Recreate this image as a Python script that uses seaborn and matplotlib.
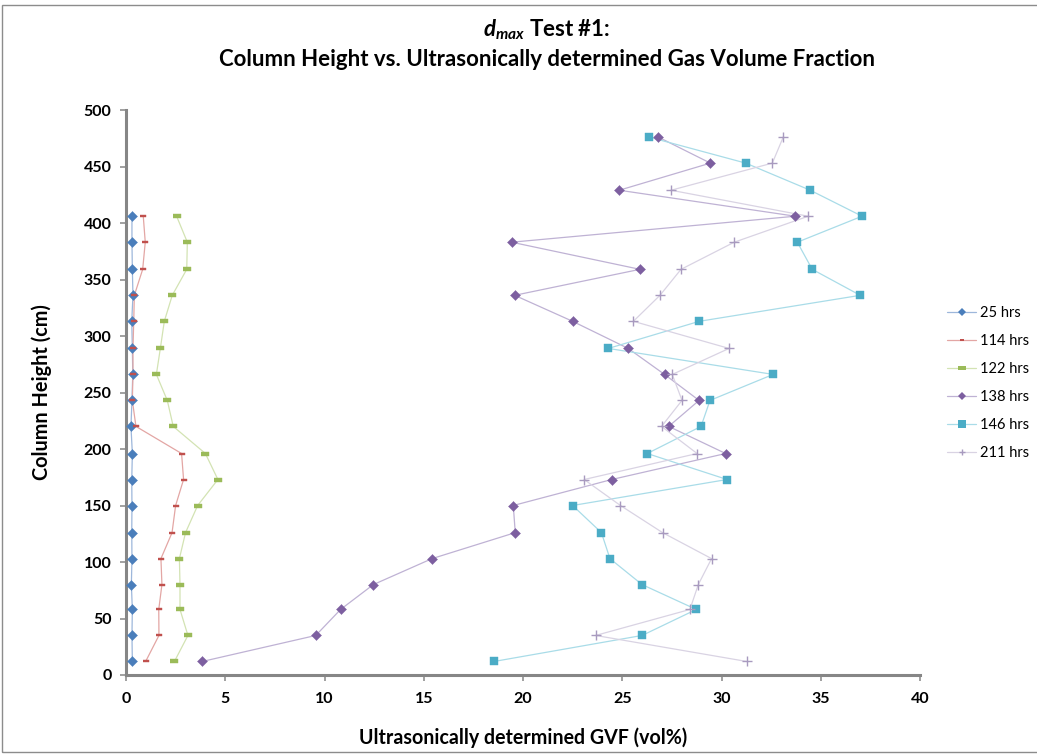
import matplotlib
matplotlib.use("Agg")
import matplotlib.pyplot as plt
import seaborn as sns
import pandas as pd
from matplotlib.lines import Line2D
from matplotlib.patches import Rectangle

# ---------------- data ----------------
heights = [12, 35, 58, 80, 103, 126, 150, 173, 196, 220, 243, 266, 289,
           313, 336, 359, 383, 406, 429, 453, 476]

gvf_25 = [0.32, 0.30, 0.32, 0.27, 0.30, 0.29, 0.30, 0.29, 0.32, 0.25, 0.30,
          0.34, 0.32, 0.29, 0.35, 0.32, 0.30, 0.30]
gvf_114 = [0.99, 1.66, 1.65, 1.81, 1.76, 2.32, 2.50, 2.90, 2.80, 0.50, 0.32,
           0.35, 0.35, 0.39, 0.42, 0.84, 0.97, 0.87]
gvf_122 = [2.44, 3.12, 2.72, 2.72, 2.69, 3.00, 3.61, 4.63, 4.00, 2.38, 2.08,
           1.53, 1.73, 1.93, 2.33, 3.06, 3.09, 2.55]
gvf_138 = [3.85, 9.56, 10.81, 12.46, 15.42, 19.61, 19.51, 24.47, 30.21, 27.34,
           28.87, 27.13, 25.30, 22.50, 19.58, 25.89, 19.43, 33.72, 24.85,
           29.44, 26.82]
gvf_146 = [18.55, 26.00, 28.73, 26.00, 24.38, 23.95, 22.50, 30.28, 26.26,
           28.97, 29.42, 32.60, 24.30, 28.88, 36.99, 34.57, 33.82, 37.08,
           34.47, 31.22, 26.36]
gvf_211 = [31.26, 23.66, 28.41, 28.83, 29.50, 27.03, 24.91, 23.08, 28.77,
           26.98, 28.01, 27.52, 30.38, 25.56, 26.90, 27.96, 30.64, 34.37,
           27.46, 32.56, 33.11]

series_names = ["25 hrs", "114 hrs", "122 hrs", "138 hrs", "146 hrs", "211 hrs"]
series_values = [gvf_25, gvf_114, gvf_122, gvf_138, gvf_146, gvf_211]

x_ticks = [0, 5, 10, 15, 20, 25, 30, 35, 40]
y_ticks = [0, 50, 100, 150, 200, 250, 300, 350, 400, 450, 500]

# ---------------- styles ----------------
marker_colors = ["#4A7EBB", "#C0504D", "#9BBB59", "#7D5FA0", "#4BACC6", "#A89ABF"]
line_colors = ["#9DB7DB", "#E3A6A4", "#D3E3B3", "#BFB2D4", "#A9DCE8", "#D9D3E3"]
dash = [(-1, -0.42), (1, -0.42), (1, 0.42), (-1, 0.42)]
markers = ["D", dash, dash, "D", "s", "+"]
msizes = [26, 22, 40, 26, 36, 44]
leg_msizes = [4.2, 3.4, 5.4, 4.2, 6.0, 5.0]

frames = []
for name, vals in zip(series_names, series_values):
    frames.append(pd.DataFrame({"series": name, "gvf": vals,
                                "height": heights[:len(vals)]}))
df = pd.concat(frames, ignore_index=True)

sns.set_theme(style="white")
plt.rcParams["font.family"] = ["Lato", "DejaVu Sans"]
plt.rcParams["mathtext.fontset"] = "custom"
plt.rcParams["mathtext.it"] = "Lato:italic:bold"
plt.rcParams["mathtext.rm"] = "Lato:bold"
plt.rcParams["text.color"] = "black"
plt.rcParams["axes.labelcolor"] = "black"
plt.rcParams["xtick.color"] = "black"
plt.rcParams["ytick.color"] = "black"

fig = plt.figure(figsize=(10.37, 7.54), dpi=100)
W, H = 1037, 754
ax = fig.add_axes([126 / W, 1 - 675 / H, (920 - 126) / W, (675 - 110) / H])

for i, name in enumerate(series_names):
    sub = df[df["series"] == name]
    sns.lineplot(data=sub, x="gvf", y="height", sort=False, estimator=None,
                 color=line_colors[i], linewidth=0.9, ax=ax, legend=False)
    if markers[i] == "+":
        sns.scatterplot(data=sub, x="gvf", y="height", marker="+",
                        color=marker_colors[i], s=msizes[i], linewidth=1.0,
                        ax=ax, legend=False, zorder=3)
    else:
        sns.scatterplot(data=sub, x="gvf", y="height", marker=markers[i],
                        color=marker_colors[i], s=msizes[i], linewidth=0.3,
                        edgecolor=marker_colors[i], ax=ax, legend=False,
                        zorder=3)

ax.set_xlim(0, 40)
ax.set_ylim(0, 500)
ax.set_xticks(x_ticks)
ax.set_yticks(y_ticks)
ax.set_xticklabels([str(v) for v in x_ticks], fontsize=11.5, fontweight="bold")
ax.set_yticklabels([str(v) for v in y_ticks], fontsize=11.5, fontweight="bold")
for s in ["top", "right"]:
    ax.spines[s].set_visible(False)
for s in ["left", "bottom"]:
    ax.spines[s].set_color("#868686")
    ax.spines[s].set_linewidth(2.2)
ax.tick_params(axis="y", which="major", direction="out", length=4.5,
               width=1.1, color="#868686", labelcolor="black", pad=6,
               left=True)
ax.tick_params(axis="x", which="major", direction="out", length=4.5,
               width=1.1, color="#868686", labelcolor="black", pad=8,
               bottom=True)
ax.set_xlabel("Ultrasonically determined GVF (vol%)", fontsize=14.1,
              fontweight="bold", color="black")
ax.set_ylabel("Column Height (cm)", fontsize=14.3, fontweight="bold",
              color="black")
ax.xaxis.set_label_coords(0.5, -(738 - 675) / 565)
ax.xaxis.label.set_va("center")
ax.yaxis.set_label_coords((42 - 126) / 794, 0.5)
ax.yaxis.label.set_va("center")

# legend
handles = []
for i, name in enumerate(series_names):
    mk = markers[i]
    if mk == "+":
        h = Line2D([], [], color=line_colors[i], linewidth=0.9, marker="+",
                   markeredgecolor=marker_colors[i], markersize=leg_msizes[i],
                   markeredgewidth=1.0)
    else:
        h = Line2D([], [], color=line_colors[i], linewidth=0.9, marker=mk,
                   markerfacecolor=marker_colors[i], markeredgewidth=0,
                   markersize=leg_msizes[i])
    handles.append(h)
leg = fig.legend(handles, series_names, loc="center left",
                 bbox_to_anchor=(947 / W, 1 - 383 / H), frameon=False,
                 fontsize=10.5, handlelength=2.0, labelspacing=0.95,
                 handletextpad=0.25, borderpad=0, borderaxespad=0)

# title
fig.text(547 / W, 1 - 30 / H, r"$d_{max}$ Test #1:", ha="center",
         va="center", fontsize=16, fontweight="bold")
fig.text(547 / W, 1 - 60 / H,
         "Column Height vs. Ultrasonically determined Gas Volume Fraction",
         ha="center", va="center", fontsize=16, fontweight="bold")

# chart border
fig.patches.append(Rectangle((2 / W, 2 / H), 1.2, 1 - 7 / H,
                             transform=fig.transFigure, fill=False,
                             edgecolor="#8C8C8C", linewidth=1.0))

fig.savefig("out.png", dpi=100)
